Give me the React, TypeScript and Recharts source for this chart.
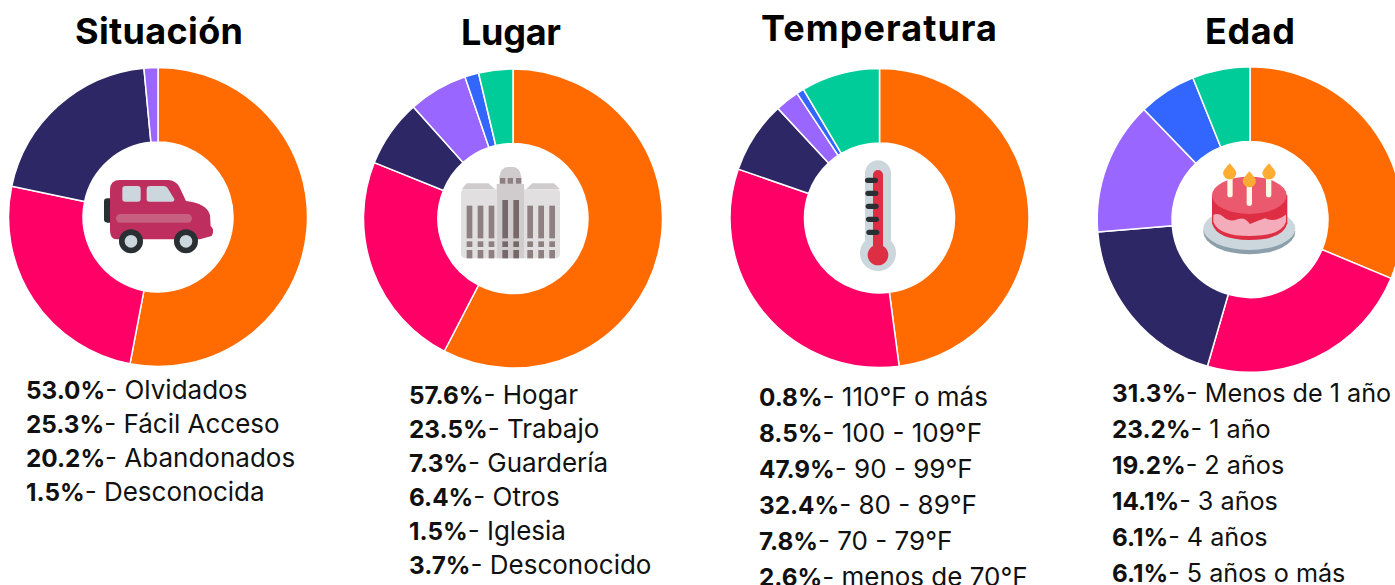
import React from "react";
import { PieChart, Pie, Cell } from "recharts";

const COLORS = ["#FF6B00", "#FF0066", "#2D2766", "#9966FF", "#3366FF", "#00CC99"];
const FONT = "Inter, 'Noto Sans', sans-serif";

const situacionValues = [53.0, 25.3, 20.2, 1.5];
const lugarValues = [57.6, 23.5, 7.3, 6.4, 1.5, 3.7];
const temperaturaValues = [47.9, 32.4, 7.8, 2.6, 0.8, 8.5];
const edadValues = [31.3, 23.2, 19.2, 14.1, 6.1, 6.1];

const situacionLegend = [["53.0%", "Olvidados"], ["25.3%", "Fácil Acceso"], ["20.2%", "Abandonados"], ["1.5%", "Desconocida"]];
const lugarLegend = [["57.6%", "Hogar"], ["23.5%", "Trabajo"], ["7.3%", "Guardería"], ["6.4%", "Otros"], ["1.5%", "Iglesia"], ["3.7%", "Desconocido"]];
const temperaturaLegend = [["0.8%", "110°F o más"], ["8.5%", "100 - 109°F"], ["47.9%", "90 - 99°F"], ["32.4%", "80 - 89°F"], ["7.8%", "70 - 79°F"], ["2.6%", "menos de 70°F"]];
const edadLegend = [["31.3%", "Menos de 1 año"], ["23.2%", "1 año"], ["19.2%", "2 años"], ["14.1%", "3 años"], ["6.1%", "4 años"], ["6.1%", "5 años o más"]];

const toRows = (values: number[]) => values.map((value, i) => ({ name: String(i), value }));

const panels = [
  { title: "Situación", titleX: 159, titleY: 44, titleW: 168, values: situacionValues, legend: situacionLegend, cx: 158, cy: 217, r: 149.5, ir: 75, lx: 26, ly: 399, step: 34, fs: 26 },
  { title: "Lugar", titleX: 511, titleY: 45, titleW: 100, values: lugarValues, legend: lugarLegend, cx: 513, cy: 218.5, r: 149.5, ir: 75, lx: 409, ly: 404, step: 34, fs: 26 },
  { title: "Temperatura", titleX: 879, titleY: 41, titleW: 236, values: temperaturaValues, legend: temperaturaLegend, cx: 879.5, cy: 218, r: 149.5, ir: 75, lx: 759, ly: 406, step: 35.9, fs: 26 },
  { title: "Edad", titleX: 1250, titleY: 44, titleW: 90, values: edadValues, legend: edadLegend, cx: 1250, cy: 219.5, r: 152.8, ir: 78, lx: 1112, ly: 402, step: 35.9, fs: 25.2 },
];

const Car = () => (
  <g transform="translate(80,150) scale(0.3333)">
    <rect x="72" y="145" width="27" height="73" rx="10" fill="#292F33" />
    <path d="M90 240V120Q90 90 120 90H265Q285 90 298 110L318 153Q380 160 390 195L392 228Q406 240 395 258L360 268H110Q90 268 90 240Z" fill="#BE2F5F" />
    <rect x="127" y="108" width="55" height="47" rx="9" fill="#CCD6DD" />
    <path d="M200 118Q200 108 210 108H250Q260 108 265 118L283 147Q284 155 275 155H208Q200 155 200 147Z" fill="#CCD6DD" />
    <rect x="108" y="192" width="228" height="26" rx="13" fill="#C65F80" />
    <circle cx="153" cy="274" r="36" fill="#292F33" />
    <circle cx="153" cy="274" r="19" fill="#CCD6DD" />
    <circle cx="318" cy="274" r="36" fill="#292F33" />
    <circle cx="318" cy="274" r="19" fill="#CCD6DD" />
  </g>
);

const windowXs = [80, 113, 146, 262, 295, 328];
const Building = () => (
  <g transform="translate(440,150) scale(0.3333)">
    <path d="M80 100H145L165 118H65Z" fill="#D0CCCE" />
    <path d="M277 100H342L360 118H258Z" fill="#D0CCCE" />
    <path d="M63 130Q63 118 75 118H170V325H80Q63 325 63 310Z" fill="#E1DFE0" />
    <path d="M360 130Q360 118 348 118H252V325H343Q360 325 360 310Z" fill="#E1DFE0" />
    <rect x="170" y="102" width="82" height="223" fill="#D0CCCE" />
    <path d="M178 102V80Q182 51 205 51H218Q240 51 244 80V102Z" fill="#D0CCCE" />
    {[180, 203, 228].map((x) => <rect key={x} x={x} y="84" width="16" height="17" fill="#8E7F80" />)}
    {[187, 220].map((x) => (
      <g key={x} fill="#76686A">
        <rect x={x} y="150" width="17" height="115" />
        <rect x={x} y="274" width="17" height="17" />
        <rect x={x} y="300" width="17" height="25" />
      </g>
    ))}
    {windowXs.map((x) => (
      <g key={x} fill="#8E7F80">
        <rect x={x} y="167" width="17" height="98" />
        <rect x={x} y="274" width="17" height="17" />
        <rect x={x} y="300" width="17" height="25" />
      </g>
    ))}
  </g>
);

const tickYs = [91, 130, 169, 208, 247];
const Thermometer = () => (
  <g transform="translate(820,150) scale(0.3333)">
    <path d="M135 70A39 39 0 0 1 213 70V272A54 54 0 1 1 135 272Z" fill="#CCD6DD" />
    <path d="M159 75A15 15 0 0 1 189 75V288A31 31 0 1 1 159 288Z" fill="#DD2E44" />
    {tickYs.map((y, i) => <rect key={y} x={135 + i * 1} y={y - 8} width="39" height="16" rx="8" fill="#292F33" />)}
  </g>
);

const Cake = () => (
  <g transform="translate(1190,150) scale(0.3333)">
    <ellipse cx="178" cy="245" rx="138" ry="68" fill="#8CA0AB" />
    <ellipse cx="178" cy="236" rx="138" ry="64" fill="#CCD6DD" />
    <path d="M66 135V220Q80 270 178 270Q280 270 292 220V135Z" fill="#DD2E44" />
    <path d="M70 135V215Q85 258 178 258Q275 258 288 215V135Z" fill="#F4ABBA" />
    <path d="M68 135V196Q85 186 100 200Q120 218 145 207Q165 200 180 222Q205 212 225 205Q255 220 290 192V135Z" fill="#DD2E44" />
    <ellipse cx="178" cy="136" rx="112" ry="56" fill="#EA596E" />
    {[120, 178, 236].map((x, i) => <rect key={x} x={x - 8} y={i === 1 ? 100 : 80} width="16" height={i === 1 ? 68 : 62} rx="8" fill="#FFF8E8" />)}
    {[[119, 40], [178, 64], [237, 40]].map(([x, y]) => (
      <path key={x} d={`M${x} ${y}Q${x + 20} ${y + 22} ${x + 20} ${y + 28}A20 20 0 0 1 ${x - 20} ${y + 28}Q${x - 20} ${y + 22} ${x} ${y}Z`} fill="#FFAC33" />
    ))}
  </g>
);

export default function App() {
  return (
    <div style={{ position: "fixed", left: 0, top: 0, width: 1395, height: 585, overflow: "hidden", background: "#fff" }}>
      <PieChart width={1395} height={585} margin={{ top: 0, right: 0, bottom: 0, left: 0 }}>
        {panels.map((p) => (
          <Pie key={p.title} data={toRows(p.values)} dataKey="value" nameKey="name" cx={p.cx} cy={p.cy}
            outerRadius={p.r} innerRadius={p.ir} startAngle={90} endAngle={-270}
            stroke="#fff" strokeWidth={1.5} isAnimationActive={false}>
            {p.values.map((_, i) => <Cell key={i} fill={COLORS[i]} />)}
          </Pie>
        ))}
      </PieChart>
      <svg width={1395} height={585} style={{ position: "absolute", left: 0, top: 0, pointerEvents: "none" }} fontFamily={FONT}>
        <Car />
        <Building />
        <Thermometer />
        <Cake />
        {panels.map((p) => (
          <g key={p.title}>
            <text x={p.titleX} y={p.titleY} textAnchor="middle" fontSize={36} fontWeight={700} fill="#000"
              textLength={p.titleW} lengthAdjust="spacing">{p.title}</text>
            {p.legend.map(([pct, label], i) => (
              <text key={i} x={p.lx} y={p.ly + i * p.step} fontSize={p.fs} fill="#111">
                <tspan fontWeight={700} fontSize={24.3}>{pct}</tspan>
                <tspan>{"- " + label}</tspan>
              </text>
            ))}
          </g>
        ))}
      </svg>
    </div>
  );
}
